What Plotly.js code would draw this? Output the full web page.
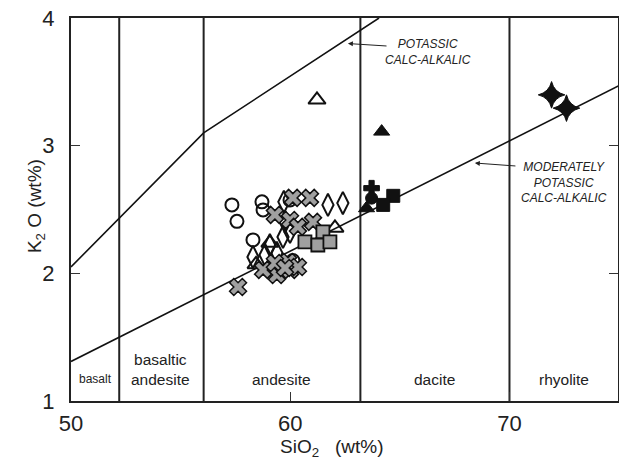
<!DOCTYPE html>
<html>
<head>
<meta charset="utf-8">
<script src="https://cdn.plot.ly/plotly-3.0.1.min.js"></script>
<style>html,body{margin:0;padding:0;background:#fff;}#chart{width:619px;height:464px;}</style>
</head>
<body>
<div id="chart"></div>
<script>
// ---- data ----
var boundaries = [52.2, 56.05, 63.2, 70];
var rockNames = ["basalt", "basaltic<br>andesite", "andesite", "dacite", "rhyolite"];
var rockNameX = [51.1, 54.1, 59.6, 66.6, 72.5];
var potassicX = [50, 56.05, 64.05];
var potassicY = [2.05, 3.1, 4.0];
var modPotassicX = [50, 75];
var modPotassicY = [1.31, 3.47];

var circX = [57.34, 57.57, 58.71, 58.76, 58.30, 60.12, 59.99];
var circY = [2.536, 2.407, 2.56, 2.497, 2.262, 2.10, 2.575];
var diamX = [61.72, 62.40, 59.71, 59.67, 59.99, 59.07, 58.30, 58.85, 59.39, 59.17, 59.76];
var diamY = [2.536, 2.55, 2.56, 2.285, 2.324, 2.22, 2.128, 2.144, 2.16, 2.05, 2.405];
var triOX = [61.22, 62.04, 59.07, 58.44];
var triOY = [3.359, 2.356, 2.238, 2.07];
var xGX = [57.62, 59.30, 60.12, 60.90, 59.99, 61.04, 60.35, 58.76, 59.39, 59.99, 59.90, 59.30, 60.35, 59.76];
var xGY = [1.893, 2.458, 2.591, 2.591, 2.418, 2.403, 2.364, 2.027, 1.987, 2.027, 2.089, 2.081, 2.05, 2.042];
var sqGX = [60.67, 61.49, 61.26, 61.81];
var sqGY = [2.246, 2.324, 2.222, 2.246];
var triBX = [64.17, 63.48];
var triBY = [3.11, 2.51];
var crossBX = [63.71];
var crossBY = [2.667];
var circBX = [63.71];
var circBY = [2.589];
var sqBX = [64.70, 64.24];
var sqBY = [2.607, 2.536];
var starBX = [71.92, 72.60];
var starBY = [3.398, 3.294];

var xTicks = [50, 60, 70];
var yTicks = [1, 2, 3, 4];

// ---- traces ----
var traces = [];
boundaries.forEach(function (b) {
  traces.push({x: [b, b], y: [1, 4], mode: 'lines', line: {color: '#222', width: 2}, hoverinfo: 'skip', showlegend: false});
});
traces.push({x: potassicX, y: potassicY, mode: 'lines', line: {color: '#111', width: 1.6}, showlegend: false});
traces.push({x: modPotassicX, y: modPotassicY, mode: 'lines', line: {color: '#111', width: 1.6}, showlegend: false});

function pts(x, y, sym, size, fill, lw) {
  return {x: x, y: y, mode: 'markers', showlegend: false,
    marker: {symbol: sym, size: size, color: fill, line: {color: '#111', width: lw}}};
}
traces.push(pts(circX, circY, 'circle', 13, 'rgba(0,0,0,0)', 2));
traces.push(pts(diamX, diamY, 'diamond-tall', 16, 'rgba(0,0,0,0)', 2));
traces.push(pts(triOX, triOY, 'triangle-up', 15, 'rgba(0,0,0,0)', 2));
traces.push(pts(xGX, xGY, 'x', 15, '#a0a0a0', 1.5));
traces.push(pts(sqGX, sqGY, 'square', 13, '#a0a0a0', 1.8));
traces.push(pts(triBX, triBY, 'triangle-up', 14, '#111', 1));
traces.push(pts(crossBX, crossBY, 'cross', 13, '#111', 1));
traces.push(pts(circBX, circBY, 'circle', 12, '#111', 1));
traces.push(pts(sqBX, sqBY, 'square', 13, '#111', 1));
traces.push(pts(starBX, starBY, 'star-diamond', 19, '#111', 1));

var ann = [];
rockNames.forEach(function (n, i) {
  var two = n.indexOf('<br>') >= 0;
  ann.push({x: rockNameX[i], y: two ? 1.245 : 1.17, xref: 'x', yref: 'y', text: n, showarrow: false,
    font: {family: 'Liberation Sans, Arial, sans-serif', size: i === 0 ? 12 : 15.5, color: '#222'}});
});
ann.push({x: 62.63, y: 3.80, ax: 64.46, ay: 3.78, xref: 'x', yref: 'y', axref: 'x', ayref: 'y', text: '',
  showarrow: true, arrowhead: 2, arrowsize: 1, arrowwidth: 1, arrowcolor: '#222'});
ann.push({x: 68.42, y: 2.864, ax: 70.34, ay: 2.84, xref: 'x', yref: 'y', axref: 'x', ayref: 'y', text: '',
  showarrow: true, arrowhead: 2, arrowsize: 1, arrowwidth: 1, arrowcolor: '#222'});
ann.push({x: 66.3, y: 3.73, xref: 'x', yref: 'y', text: '<i>POTASSIC<br>CALC-ALKALIC</i>', showarrow: false,
  font: {family: 'Liberation Sans, Arial, sans-serif', size: 12, color: '#222'}});
ann.push({x: 72.5, y: 2.71, xref: 'x', yref: 'y', text: '<i>MODERATELY<br>POTASSIC<br>CALC-ALKALIC</i>', showarrow: false,
  font: {family: 'Liberation Sans, Arial, sans-serif', size: 12, color: '#222'}});
ann.push({x: 0.476, y: -0.124, xref: 'paper', yref: 'paper', text: 'SiO<sub>2</sub>&nbsp;&nbsp;&nbsp;(wt%)', showarrow: false,
  yanchor: 'middle', font: {family: 'Liberation Sans, Arial, sans-serif', size: 19, color: '#222'}});
ann.push({x: -0.065, y: 0.51, xref: 'paper', yref: 'paper', text: 'K<sub>2</sub> O (wt%)', showarrow: false, textangle: -90,
  xanchor: 'center', font: {family: 'Liberation Sans, Arial, sans-serif', size: 19, color: '#222'}});

var layout = {
  width: 619, height: 464,
  margin: {l: 71, r: 1, t: 18, b: 63},
  paper_bgcolor: '#fff', plot_bgcolor: '#fff',
  showlegend: false,
  xaxis: {range: [50, 74.95], tickvals: xTicks, ticktext: xTicks.map(String), ticks: 'inside', ticklen: 9, tickwidth: 1,
    tickcolor: '#333', showgrid: false, zeroline: false, showline: true, linecolor: '#222', linewidth: 2, mirror: true,
    tickfont: {family: 'Liberation Sans, Arial, sans-serif', size: 22, color: '#222'}, ticklabelstandoff: 2},
  yaxis: {range: [1, 4], tickvals: yTicks, ticktext: yTicks.map(String), ticks: 'inside', ticklen: 9, tickwidth: 1,
    tickcolor: '#333', showgrid: false, zeroline: false, showline: true, linecolor: '#222', linewidth: 2, mirror: 'ticks',
    tickfont: {family: 'Liberation Sans, Arial, sans-serif', size: 22, color: '#222'}, ticklabelstandoff: 10},
  annotations: ann
};
Plotly.newPlot('chart', traces, layout, {displayModeBar: false, staticPlot: true});
</script>
</body>
</html>
